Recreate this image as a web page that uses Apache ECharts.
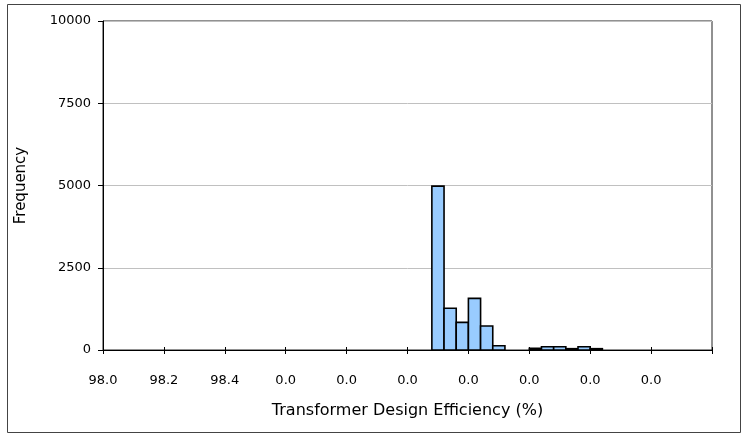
<!DOCTYPE html>
<html>
<head>
<meta charset="utf-8">
<script src="https://cdn.jsdelivr.net/npm/echarts@6/dist/echarts.min.js"></script>
<style>
  html, body { margin: 0; padding: 0; background: #fff; }
  #chart { width: 744px; height: 435px; }
</style>
</head>
<body>
<div id="chart"></div>
<script>
// histogram bins: start of each bin, bin width and its count
var binStarts = [99.08, 99.12, 99.16, 99.20, 99.24, 99.28, 99.32, 99.36, 99.40, 99.44, 99.48, 99.52, 99.56, 99.60];
var binWidth = 0.04;
var counts = [4980, 1270, 840, 1570, 730, 130, 0, 0, 50, 100, 100, 40, 100, 40];
var xTickLabels = ['98.0', '98.2', '98.4', '0.0', '0.0', '0.0', '0.0', '0.0', '0.0', '0.0', ''];
var yTicks = [0, 2500, 5000, 7500, 10000];

var font = 'DejaVu Sans';

var seriesData = [];
for (var i = 0; i < binStarts.length; i++) {
  if (counts[i] > 0) {
    seriesData.push([binStarts[i], binStarts[i] + binWidth, counts[i]]);
  }
}

var chart = echarts.init(document.getElementById('chart'));

var option = {
  animation: false,
  backgroundColor: '#fff',
  graphic: [{
    type: 'rect',
    shape: { x: 7.5, y: 4.5, width: 733, height: 428 },
    style: { fill: null, stroke: '#444', lineWidth: 1 }
  }],
  grid: {
    left: 103, right: 32, top: 21, bottom: 85,
    show: true, borderColor: '#222', borderWidth: 1
  },
  xAxis: [{
    type: 'value',
    min: 98, max: 100, interval: 0.2,
    name: 'Transformer Design Efficiency (%)',
    nameLocation: 'middle',
    nameGap: 53,
    nameTextStyle: { fontFamily: font, fontSize: 16, color: '#000' },
    axisLine: { lineStyle: { color: '#000', width: 1 } },
    axisTick: { show: true, length: 4, lineStyle: { color: '#000' } },
    axisLabel: {
      margin: 24,
      fontFamily: font, fontSize: 13, color: '#000',
      formatter: function (v) {
        var idx = Math.round((v - 98) / 0.2);
        return xTickLabels[idx] || '';
      }
    },
    splitLine: { show: false }
  }, {
    type: 'value',
    position: 'bottom',
    min: 98, max: 100, interval: 0.2,
    axisLine: { show: false },
    axisTick: { show: true, inside: true, length: 3, lineStyle: { color: '#000' } },
    axisLabel: { show: false },
    splitLine: { show: false }
  }],
  yAxis: {
    type: 'value',
    min: yTicks[0], max: yTicks[yTicks.length - 1], interval: 2500,
    name: 'Frequency',
    nameLocation: 'middle',
    nameGap: 74,
    nameTextStyle: { fontFamily: font, fontSize: 15, color: '#000' },
    axisLine: { show: true, lineStyle: { color: '#000', width: 1 } },
    axisTick: { show: true, length: 5, lineStyle: { color: '#000' } },
    axisLabel: {
      margin: 12, fontFamily: font, fontSize: 13, color: '#000',
      formatter: function (v) { return String(v); }
    },
    splitLine: { show: true, lineStyle: { color: '#c0c0c0', width: 1 } }
  },
  series: [{
    type: 'custom',
    xAxisIndex: 0,
    data: seriesData,
    renderItem: function (params, api) {
      var topLeft = api.coord([api.value(0), api.value(2)]);
      var bottomRight = api.coord([api.value(1), 0]);
      return {
        type: 'rect',
        shape: {
          x: topLeft[0],
          y: topLeft[1],
          width: bottomRight[0] - topLeft[0],
          height: bottomRight[1] - topLeft[1]
        },
        style: { fill: '#99ccff', stroke: '#000', lineWidth: 1.6 }
      };
    }
  }]
};

chart.setOption(option);
</script>
</body>
</html>
